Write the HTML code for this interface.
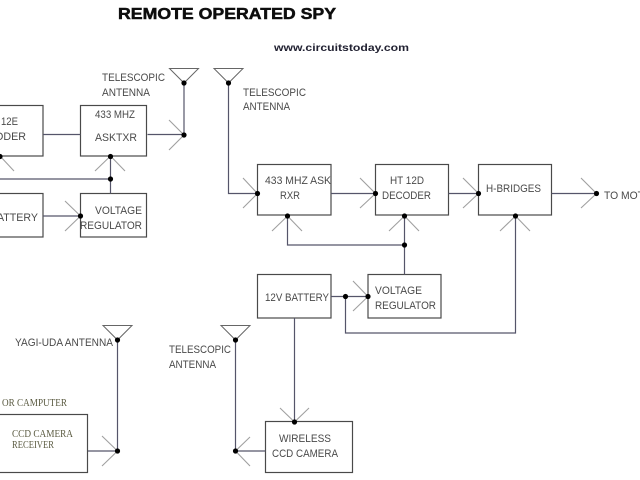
<!DOCTYPE html>
<html><head><meta charset="utf-8">
<style>
html,body{margin:0;padding:0;background:#fff;width:640px;height:480px;overflow:hidden}
svg{display:block}
text{font-family:"Liberation Sans",sans-serif;font-size:11px;fill:#4a4a4a}
.s{font-family:"Liberation Serif",serif;font-size:10.5px;fill:#5a5a40}
</style></head><body>
<svg width="640" height="480" viewBox="0 0 640 480" xmlns="http://www.w3.org/2000/svg">
<defs><filter id="b" x="-5%" y="-5%" width="110%" height="110%"><feGaussianBlur stdDeviation="0.3"/></filter></defs>
<rect width="640" height="480" fill="#fff"/>
<g filter="url(#b)">
<!-- boxes -->
<g fill="none" stroke="#4a4a4a" stroke-width="1.2">
<rect x="-5" y="105.500" width="48" height="50.500"/>
<rect x="80.500" y="105.500" width="66" height="50.500"/>
<rect x="-5" y="193.500" width="48" height="43.500"/>
<rect x="80.500" y="193.500" width="66" height="43.500"/>
<rect x="257.500" y="164.500" width="73.500" height="50.500"/>
<rect x="375.500" y="164.500" width="73" height="50.500"/>
<rect x="478.500" y="164.500" width="73" height="50.500"/>
<rect x="257.500" y="274.500" width="73.500" height="43.500"/>
<rect x="368" y="274.500" width="73" height="43.500"/>
<rect x="-5" y="414.500" width="92.500" height="58"/>
<rect x="265.500" y="421.500" width="87" height="51"/>
</g>
<!-- connectors -->
<g fill="none" stroke="#55556a" stroke-width="1.2">
<path d="M43 134.500H80.500M147.500 134.500H184M184 83V134.500"/>
<path d="M110.500 156V193.500M0 179H110.500M43 216H80.500"/>
<path d="M228.500 83V193.500H257.500M331 193.500H375.500M448.500 193.500H478.500M551.500 193.500H596.500"/>
<path d="M287.500 216V245H404.500M404.500 216V274.500"/>
<path d="M515.500 216V333H345.500V296.500M331 296.500H368"/>
<path d="M294.500 318V422"/>
<path d="M117.500 340V451M88 451H117.500M235.500 340V451H265.500"/>
</g>
<!-- antennas -->
<g fill="none" stroke="#666" stroke-width="1">
<path d="M169.500 68.500H198.500L184 83Z"/>
<path d="M214 68.500H243L228.500 83Z"/>
<path d="M103 325.500H132L117.500 340Z"/>
<path d="M221 325.500H250L235.500 340Z"/>
</g>
<!-- arrow tails -->
<g fill="none" stroke="#a0a0a0" stroke-width="1.100">
<path d="M169 120L184 135L169 150"/>
<path d="M95 171L110.500 156L125 171"/>
<path d="M0 156L14 171"/>
<path d="M65 201L80.500 216L65 231"/>
<path d="M243 178L257.500 193.500L243 208"/>
<path d="M360 178L375.500 193.500L360 208"/>
<path d="M463 178L478.500 193.500L463 208"/>
<path d="M581 178L596.500 193.500L581 208"/>
<path d="M272 231L287.500 216L302 231"/>
<path d="M389 231L404.500 216L419 231"/>
<path d="M500 231L515.500 216L530 231"/>
<path d="M353 281L368 296.500L353 311"/>
<path d="M280 408L294.500 422L309 408"/>
<path d="M102 436L117.500 451L102 466"/>
<path d="M250 437L235.500 451L250 466"/>
</g>
<!-- dots -->
<g fill="#000">
<circle cx="184" cy="83" r="2.600"/><circle cx="184" cy="135" r="2.600"/>
<circle cx="228.500" cy="83" r="2.600"/><circle cx="110.500" cy="156.500" r="2.600"/>
<circle cx="110.500" cy="179" r="2.600"/><circle cx="0" cy="156.500" r="2.600"/>
<circle cx="80.500" cy="216" r="2.600"/><circle cx="257.500" cy="193.500" r="2.600"/>
<circle cx="375.500" cy="193.500" r="2.600"/><circle cx="478.500" cy="193.500" r="2.600"/>
<circle cx="596.500" cy="193.500" r="2.600"/><circle cx="287.500" cy="216" r="2.600"/>
<circle cx="404.500" cy="216" r="2.600"/><circle cx="515.500" cy="216" r="2.600"/>
<circle cx="404.500" cy="245" r="2.600"/><circle cx="345.500" cy="296.500" r="2.600"/>
<circle cx="368" cy="296.500" r="2.600"/><circle cx="294.500" cy="422" r="2.600"/>
<circle cx="117.500" cy="340" r="2.600"/><circle cx="117.500" cy="451" r="2.600"/>
<circle cx="235.500" cy="340" r="2.600"/><circle cx="235.500" cy="451" r="2.600"/>
</g>
<!-- labels -->
<text x="118" y="19" textLength="218" lengthAdjust="spacingAndGlyphs" style="font-size:15.500px;font-weight:bold;fill:#111;stroke:#111;stroke-width:.5">REMOTE OPERATED SPY</text>
<text x="274" y="51" textLength="135" lengthAdjust="spacingAndGlyphs" style="font-size:10.500px;font-weight:bold;fill:#223">www.circuitstoday.com</text>
<text x="102" y="81" textLength="63" lengthAdjust="spacingAndGlyphs">TELESCOPIC</text>
<text x="102" y="96" textLength="48" lengthAdjust="spacingAndGlyphs">ANTENNA</text>
<text x="243" y="96" textLength="63" lengthAdjust="spacingAndGlyphs">TELESCOPIC</text>
<text x="243" y="110" textLength="47" lengthAdjust="spacingAndGlyphs">ANTENNA</text>
<text x="1" y="125" textLength="17" lengthAdjust="spacingAndGlyphs">12E</text>
<text x="-5" y="140" textLength="31" lengthAdjust="spacingAndGlyphs">ODER</text>
<text x="95" y="118" textLength="40" lengthAdjust="spacingAndGlyphs">433 MHZ</text>
<text x="95" y="141" textLength="42" lengthAdjust="spacingAndGlyphs">ASKTXR</text>
<text x="-3" y="221" textLength="41" lengthAdjust="spacingAndGlyphs">ATTERY</text>
<text x="95" y="214" textLength="47" lengthAdjust="spacingAndGlyphs">VOLTAGE</text>
<text x="80" y="229" textLength="62" lengthAdjust="spacingAndGlyphs">REGULATOR</text>
<text x="265" y="184" textLength="66" lengthAdjust="spacingAndGlyphs">433 MHZ ASK</text>
<text x="280" y="199" textLength="20" lengthAdjust="spacingAndGlyphs">RXR</text>
<text x="390" y="184" textLength="34" lengthAdjust="spacingAndGlyphs">HT 12D</text>
<text x="382" y="199" textLength="49" lengthAdjust="spacingAndGlyphs">DECODER</text>
<text x="486" y="192" textLength="55" lengthAdjust="spacingAndGlyphs">H-BRIDGES</text>
<text x="604" y="199" textLength="40" lengthAdjust="spacingAndGlyphs">TO MOT</text>
<text x="265" y="301" textLength="64" lengthAdjust="spacingAndGlyphs">12V BATTERY</text>
<text x="375" y="294" textLength="47" lengthAdjust="spacingAndGlyphs">VOLTAGE</text>
<text x="375" y="309" textLength="61" lengthAdjust="spacingAndGlyphs">REGULATOR</text>
<text x="15" y="346" textLength="98" lengthAdjust="spacingAndGlyphs">YAGI-UDA ANTENNA</text>
<text x="169" y="353" textLength="62" lengthAdjust="spacingAndGlyphs">TELESCOPIC</text>
<text x="169" y="368" textLength="47" lengthAdjust="spacingAndGlyphs">ANTENNA</text>
<text class="s" x="2" y="406" textLength="65" lengthAdjust="spacingAndGlyphs">OR CAMPUTER</text>
<text class="s" x="12" y="437" textLength="61" lengthAdjust="spacingAndGlyphs">CCD CAMERA</text>
<text class="s" x="12" y="448" textLength="42" lengthAdjust="spacingAndGlyphs">RECEIVER</text>
<text x="279" y="442" textLength="52" lengthAdjust="spacingAndGlyphs">WIRELESS</text>
<text x="272" y="457" textLength="66" lengthAdjust="spacingAndGlyphs">CCD CAMERA</text>
</g>
</svg>
</body></html>
